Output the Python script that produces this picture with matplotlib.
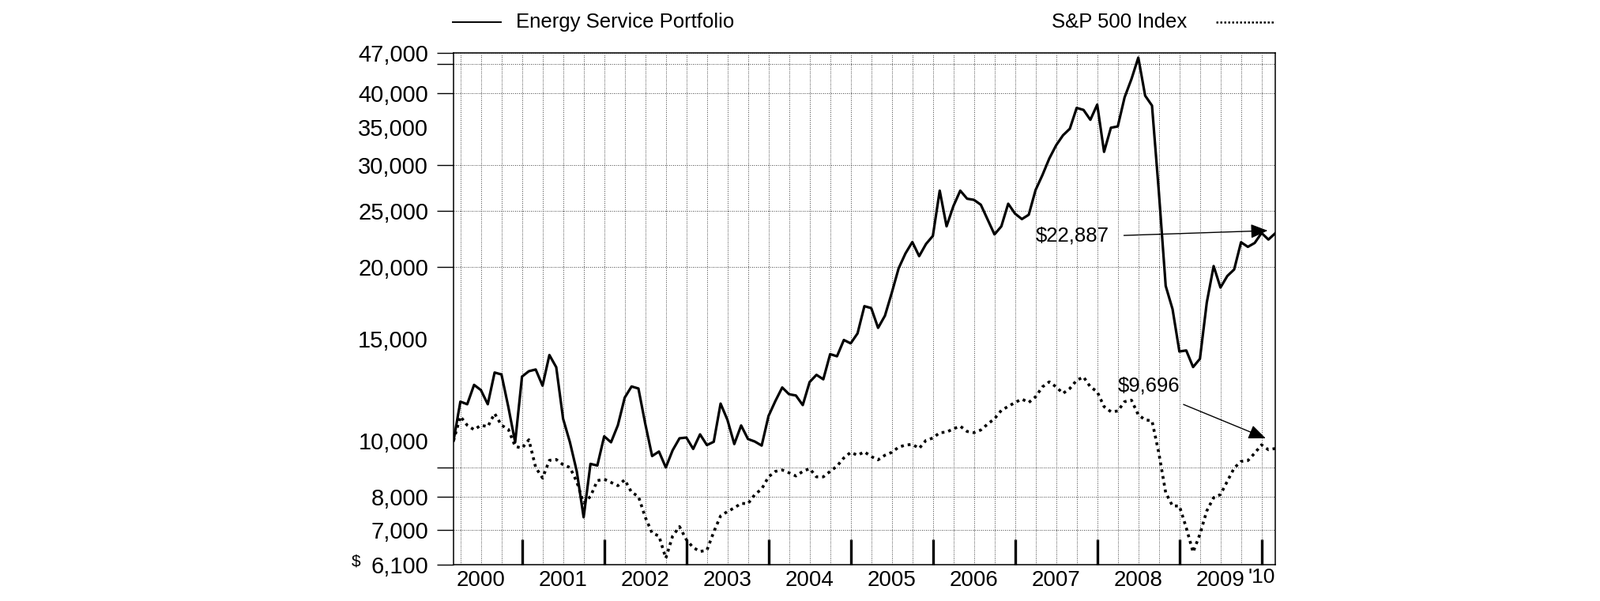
import matplotlib
matplotlib.use("Agg")
import matplotlib.pyplot as plt
from matplotlib.lines import Line2D
from matplotlib.ticker import FixedLocator, NullFormatter, FuncFormatter
import numpy as np
import pandas as pd

plt.rcParams["font.family"] = ["Liberation Sans", "DejaVu Sans"]

# month-end values, Feb 2000 .. Feb 2010 (growth of $10,000)
months = pd.period_range("2000-02", "2010-02", freq="M")

portfolio = [
    10000, 11690, 11570, 12500, 12240, 11570, 13130, 13030, 11450, 9940,
    12920, 13200, 13290, 12460, 14080, 13410, 10920, 9940, 8850, 7370,
    9120, 9060, 10180, 9940, 10640, 11880, 12420, 12320, 10700, 9410,
    9580, 8990, 9630, 10100, 10130, 9680, 10260, 9830, 9960, 11600,
    10870, 9870, 10630, 10070, 9970, 9810, 11040, 11720, 12370, 12040,
    11980, 11530, 12640, 13010, 12780, 14130, 14010, 14950, 14750, 15350,
    17110, 16980, 15690, 16470, 18050, 19900, 21120, 22100, 20890, 21930,
    22650, 27130, 23530, 25510, 27130, 26270, 26150, 25650, 24170, 22780,
    23530, 25750, 24750, 24220, 24640, 27200, 28870, 30840, 32510, 33830,
    34730, 37740, 37440, 35990, 38240, 31670, 34870, 35050, 39370, 42340,
    46130, 39630, 38090, 27000, 18550, 16910, 14280, 14340, 13420, 13870,
    17360, 20080, 18430, 19300, 19810, 22080, 21680, 22020, 22910, 22320,
    22887,
]

sp500 = [
    10000, 11020, 10640, 10450, 10640, 10580, 11150, 10640, 10470, 9780,
    9710, 10040, 8990, 8620, 9250, 9280, 9090, 8990, 8490, 7800,
    8010, 8530, 8580, 8470, 8360, 8560, 8140, 8010, 7370, 6920,
    6840, 6260, 6840, 7100, 6740, 6530, 6430, 6460, 6950, 7410,
    7540, 7650, 7790, 7780, 8070, 8250, 8660, 8850, 8900, 8800,
    8690, 8850, 8950, 8660, 8660, 8850, 9040, 9340, 9550, 9440,
    9570, 9390, 9270, 9440, 9550, 9750, 9830, 9860, 9700, 10020,
    10110, 10330, 10350, 10490, 10600, 10380, 10330, 10440, 10690, 10920,
    11290, 11470, 11650, 11810, 11650, 11920, 12400, 12650, 12400, 12080,
    12320, 12730, 12900, 12400, 12160, 11460, 11230, 11260, 11690, 11760,
    11090, 10870, 10830, 9520, 8130, 7710, 7710, 7070, 6410, 6890,
    7560, 7970, 8070, 8510, 8970, 9210, 9240, 9520, 9840, 9650,
    9696,
]

ytick_marks = [6100, 7000, 8000, 9000, 20000, 25000, 30000, 40000, 45000, 47000]
ytick_labels = [6100, 7000, 8000, 10000, 15000, 20000, 25000, 30000, 35000, 40000, 47000]
years = list(range(2000, 2010))

W, H = 2025, 761
fig = plt.figure(figsize=(W / 100, H / 100), dpi=100)
ax = fig.add_axes([574 / W, 1 - 715 / H, (1614 - 574) / W, (715 - 67) / H])

x = np.arange(len(months))
ax.plot(x, portfolio, color="black", lw=2.3)
ax.plot(x, sp500, color="black", lw=2.6, linestyle=(0, (1, 1.4)))

ax.set_yscale("log")
ax.set_ylim(6100, 47000)
ax.set_xlim(0, len(months) - 1)

# y: labels and tick marks sit at different values
ax.yaxis.set_major_locator(FixedLocator(ytick_labels))
ax.yaxis.set_major_formatter(FuncFormatter(lambda v, p: f"{v:,.0f}"))
ax.yaxis.set_minor_locator(FixedLocator(ytick_marks))
ax.yaxis.set_minor_formatter(NullFormatter())
ax.yaxis.remove_overlapping_locs = False
ax.tick_params(axis="y", which="major", length=0, pad=23, labelsize=21)
ax.tick_params(axis="y", which="minor", length=15, width=1.0, direction="out")

# x: thick year-end ticks inside, quarterly dotted grid
dec_idx = [i for i, m in enumerate(months) if m.month == 12]
qtr_idx = [i for i, m in enumerate(months) if m.month % 3 == 0]
ax.xaxis.set_major_locator(FixedLocator(dec_idx))
ax.xaxis.set_major_formatter(NullFormatter())
ax.xaxis.set_minor_locator(FixedLocator(qtr_idx))
ax.xaxis.remove_overlapping_locs = False
ax.tick_params(axis="x", which="major", direction="in", length=23, width=2.4)
ax.tick_params(axis="x", which="minor", length=0)
ax.grid(which="minor", linestyle=(0, (1, 2)), color="black", lw=0.6)
for s in ax.spines.values():
    s.set_linewidth(1.1)

xt = ax.get_xaxis_transform()
for yr in years:
    c = [i for i, m in enumerate(months) if m.year == yr and m.month == 6][0]
    ax.text(c, -0.031, str(yr), transform=xt, ha="center", va="center", fontsize=20)
ax.text(1.0, -0.024, "'10", transform=ax.transAxes, ha="right", va="center", fontsize=19)

fig.text(451 / W, 1 - 711 / H, "$", ha="center", va="center", fontsize=15)

# legend across the top
fig.add_artist(Line2D([573 / W, 634 / W], [1 - 28 / H] * 2, color="black", lw=1.4))
fig.text(653 / W, 1 - 28 / H, "Energy Service Portfolio", va="center", fontsize=18.5)
fig.text(1331 / W, 1 - 28 / H, "S&P 500 Index", va="center", fontsize=18.5)
fig.add_artist(Line2D([1539 / W, 1612 / W], [1 - 28 / H] * 2, color="black", lw=1.8,
                      linestyle=(0, (1, 1))))

# end-value callouts
arrow = dict(arrowstyle="-|>,head_length=0.6,head_width=0.25", color="black", lw=1.0,
             mutation_scale=22, shrinkA=0, shrinkB=0)
ax.annotate("", xy=(118.9, 23130), xytext=(97.9, 22690), arrowprops=arrow)
ax.text(85.0, 22690, "$22,887", va="center", fontsize=18.5)
ax.annotate("", xy=(118.6, 10100), xytext=(106.6, 11560), arrowprops=arrow)
ax.text(97.0, 12470, "$9,696", va="center", fontsize=18.5)

fig.savefig("out.png", dpi=100)
